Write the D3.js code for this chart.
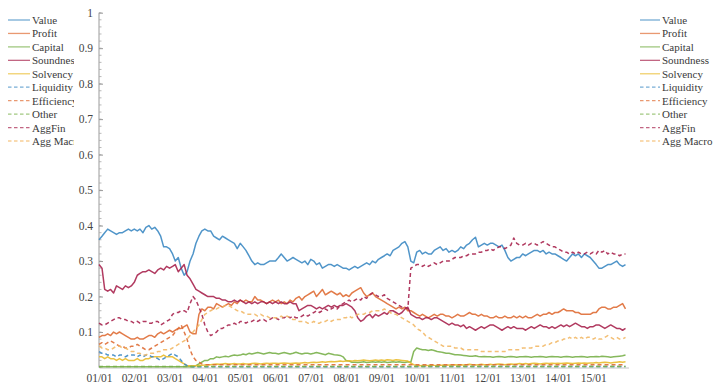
<!DOCTYPE html>
<html>
<head>
<meta charset="utf-8">
<script src="https://cdn.jsdelivr.net/npm/d3@7"></script>
<style>
  html, body { margin: 0; padding: 0; background: #fff; }
  svg { display: block; }
  svg text { font-family: "Liberation Serif", "DejaVu Serif", "Times New Roman", serif; }
</style>
</head>
<body>
<svg id="chart" width="725" height="386"></svg>
<script>
// Monthly indicator series, January 2001 – December 2015
const startMonth = new Date(2001, 0, 1);

const value = [
  .36,.37,.38,.39,.385,.38,.375,.38,.38,.385,.39,.385,
  .39,.385,.39,.38,.395,.40,.39,.395,.385,.37,.34,.34,
  .335,.32,.30,.31,.28,.26,.27,.30,.32,.35,.37,.385,
  .39,.385,.385,.37,.365,.36,.37,.365,.36,.355,.35,.335,
  .35,.34,.33,.315,.30,.29,.295,.29,.29,.295,.30,.30,
  .30,.31,.32,.31,.30,.305,.31,.305,.30,.295,.30,.29,
  .305,.30,.29,.295,.28,.285,.29,.29,.285,.29,.285,.28,
  .28,.275,.28,.285,.28,.285,.29,.295,.29,.30,.295,.305,
  .31,.315,.32,.315,.33,.335,.34,.35,.355,.34,.30,.295,
  .325,.33,.32,.325,.32,.32,.33,.335,.34,.33,.335,.325,
  .33,.325,.33,.34,.335,.345,.35,.36,.367,.34,.345,.35,
  .345,.35,.35,.345,.34,.345,.33,.31,.30,.305,.31,.31,
  .32,.315,.32,.325,.33,.33,.325,.33,.32,.325,.32,.32,
  .315,.31,.305,.30,.31,.32,.315,.32,.31,.32,.315,.31,
  .30,.29,.28,.28,.285,.29,.29,.295,.30,.29,.285,.29
];

const profit = [
  .085,.09,.09,.095,.09,.10,.095,.10,.095,.09,.085,.08,
  .08,.085,.08,.08,.085,.09,.09,.085,.095,.10,.095,.10,
  .105,.10,.105,.11,.11,.115,.12,.10,.095,.095,.15,.165,
  .16,.17,.17,.165,.18,.175,.17,.175,.18,.175,.185,.18,
  .19,.185,.19,.185,.185,.20,.19,.19,.185,.18,.185,.19,
  .185,.19,.18,.185,.18,.19,.185,.195,.20,.19,.20,.205,
  .21,.215,.20,.21,.22,.205,.21,.215,.21,.205,.21,.20,
  .205,.20,.21,.215,.22,.225,.21,.20,.205,.21,.20,.195,
  .19,.185,.18,.175,.17,.165,.17,.165,.17,.16,.16,.155,
  .15,.145,.15,.145,.14,.145,.15,.145,.15,.15,.145,.145,
  .14,.145,.15,.145,.145,.15,.155,.15,.15,.145,.15,.145,
  .145,.14,.14,.145,.14,.14,.145,.14,.14,.145,.14,.145,
  .14,.145,.14,.14,.145,.15,.145,.15,.15,.155,.15,.155,
  .155,.16,.165,.16,.16,.16,.155,.155,.15,.15,.15,.15,
  .155,.155,.165,.17,.17,.165,.165,.17,.17,.175,.18,.165
];

const capital = [
  .002,.002,.002,.002,.002,.002,.002,.002,.002,.002,.002,.002,
  .002,.002,.002,.002,.002,.002,.002,.002,.002,.002,.002,.002,
  .002,.002,.002,.002,.002,.002,.002,.002,.002,.005,.01,.015,
  .02,.02,.025,.025,.03,.028,.03,.032,.03,.033,.035,.034,
  .035,.038,.036,.04,.038,.04,.042,.04,.038,.04,.042,.04,
  .04,.038,.04,.042,.04,.038,.04,.043,.04,.038,.04,.04,
  .038,.04,.042,.04,.038,.036,.04,.038,.036,.035,.034,.03,
  .02,.018,.015,.015,.014,.015,.016,.014,.015,.016,.015,.016,
  .015,.016,.014,.015,.016,.015,.016,.015,.014,.016,.015,.045,
  .055,.052,.05,.05,.048,.05,.048,.045,.044,.042,.04,.04,
  .038,.036,.036,.035,.034,.033,.032,.032,.033,.031,.03,.031,
  .03,.03,.029,.03,.031,.03,.029,.03,.031,.03,.029,.03,
  .03,.031,.03,.029,.03,.03,.031,.03,.029,.03,.031,.03,
  .03,.029,.03,.031,.03,.029,.03,.03,.031,.03,.029,.03,
  .03,.031,.03,.032,.031,.03,.029,.03,.031,.032,.033,.035
];

const soundness = [
  .29,.28,.22,.215,.22,.21,.23,.225,.22,.23,.225,.23,
  .24,.26,.265,.27,.27,.275,.27,.265,.275,.28,.275,.285,
  .28,.285,.29,.27,.28,.29,.26,.25,.235,.22,.215,.21,
  .205,.20,.20,.20,.195,.195,.19,.19,.185,.185,.19,.185,
  .19,.185,.18,.185,.18,.185,.18,.185,.185,.18,.185,.18,
  .185,.18,.185,.18,.18,.185,.18,.18,.16,.165,.17,.175,
  .175,.17,.165,.17,.165,.17,.175,.17,.175,.17,.175,.175,
  .18,.175,.17,.16,.14,.13,.135,.145,.15,.14,.15,.145,
  .15,.155,.15,.16,.16,.155,.15,.155,.165,.17,.15,.145,
  .14,.14,.135,.14,.14,.135,.14,.14,.135,.13,.125,.12,
  .125,.12,.12,.115,.12,.11,.115,.11,.105,.11,.115,.11,
  .115,.12,.12,.115,.11,.105,.11,.115,.11,.115,.11,.11,
  .11,.105,.11,.115,.11,.115,.12,.115,.115,.11,.115,.11,
  .115,.12,.115,.12,.115,.12,.125,.12,.115,.115,.11,.115,
  .115,.12,.12,.115,.11,.115,.12,.115,.11,.11,.105,.11
];

const solvency = [
  .03,.03,.025,.03,.025,.025,.02,.025,.02,.025,.02,.02,
  .02,.025,.02,.02,.025,.025,.03,.03,.03,.03,.035,.03,
  .03,.03,.025,.02,.015,.01,.005,.005,.005,.005,.006,.006,
  .007,.008,.008,.009,.01,.009,.01,.011,.01,.01,.011,.01,
  .01,.011,.01,.01,.011,.012,.011,.01,.011,.012,.011,.012,
  .012,.011,.012,.013,.012,.011,.012,.013,.012,.013,.014,.013,
  .014,.015,.014,.015,.016,.015,.016,.017,.016,.017,.018,.017,
  .018,.019,.018,.02,.019,.02,.021,.02,.019,.02,.021,.02,
  .021,.02,.022,.021,.02,.022,.021,.02,.019,.018,.012,.008,
  .006,.005,.006,.005,.006,.007,.006,.005,.006,.007,.006,.007,
  .007,.008,.007,.008,.007,.008,.009,.008,.007,.008,.009,.008,
  .008,.009,.008,.009,.01,.009,.008,.009,.01,.009,.01,.011,
  .01,.011,.01,.011,.012,.011,.01,.011,.012,.011,.012,.011,
  .012,.011,.012,.013,.012,.011,.012,.013,.012,.013,.012,.013,
  .013,.014,.013,.014,.015,.014,.013,.014,.015,.016,.015,.016
];

const liquidity = [
  .045,.04,.04,.035,.035,.035,.03,.035,.035,.03,.035,.035,
  .035,.03,.035,.03,.035,.035,.03,.03,.025,.02,.025,.03,
  .035,.04,.035,.03,.02,.01,.005,.003,.002,.002,.002,.002,
  .002,.002,.002,.002,.002,.002,.002,.002,.002,.002,.002,.002,
  .002,.002,.002,.002,.002,.002,.002,.002,.002,.002,.002,.002,
  .002,.002,.002,.002,.002,.002,.002,.002,.002,.002,.002,.002,
  .002,.002,.002,.002,.002,.002,.002,.002,.002,.002,.002,.002,
  .002,.002,.002,.002,.002,.002,.002,.002,.002,.002,.002,.002,
  .002,.002,.002,.002,.002,.002,.002,.002,.002,.002,.002,.003,
  .003,.003,.003,.003,.003,.003,.003,.003,.003,.003,.003,.003,
  .003,.003,.003,.003,.003,.003,.003,.003,.003,.003,.003,.003,
  .003,.003,.003,.003,.003,.003,.003,.003,.003,.003,.003,.003,
  .003,.003,.003,.003,.003,.003,.003,.003,.003,.003,.003,.003,
  .003,.003,.003,.003,.003,.003,.003,.003,.003,.003,.003,.003,
  .003,.003,.003,.003,.003,.003,.003,.003,.003,.003,.003,.003
];

const efficiency = [
  .065,.07,.065,.07,.075,.07,.065,.06,.06,.055,.055,.06,
  .06,.065,.06,.055,.05,.05,.055,.06,.065,.07,.075,.08,
  .085,.09,.10,.11,.12,.10,.08,.05,.03,.02,.015,.01,
  .008,.008,.008,.008,.008,.008,.008,.008,.008,.008,.008,.008,
  .008,.008,.008,.008,.008,.008,.008,.008,.008,.008,.008,.008,
  .008,.008,.008,.008,.008,.008,.008,.008,.008,.008,.008,.008,
  .008,.008,.008,.008,.008,.008,.008,.008,.008,.008,.008,.008,
  .008,.008,.008,.008,.008,.008,.008,.008,.008,.008,.008,.008,
  .008,.008,.008,.008,.008,.008,.008,.008,.008,.008,.008,.008,
  .008,.008,.008,.008,.008,.008,.008,.008,.008,.008,.008,.008,
  .008,.008,.008,.008,.008,.008,.008,.008,.008,.008,.008,.008,
  .008,.008,.008,.008,.008,.008,.008,.008,.008,.008,.008,.008,
  .008,.008,.008,.008,.008,.008,.008,.008,.008,.008,.008,.008,
  .008,.008,.008,.008,.008,.008,.008,.008,.008,.008,.008,.008,
  .008,.008,.008,.008,.008,.008,.008,.008,.008,.008,.008,.008
];

const other = [
  .003,.003,.003,.003,.003,.003,.003,.003,.003,.003,.003,.003,
  .003,.003,.003,.003,.003,.003,.003,.003,.003,.003,.003,.003,
  .003,.003,.003,.003,.003,.003,.003,.003,.003,.003,.003,.003,
  .003,.003,.003,.003,.003,.003,.003,.003,.003,.003,.003,.003,
  .003,.003,.003,.003,.003,.003,.003,.003,.003,.003,.003,.003,
  .003,.003,.003,.003,.003,.003,.003,.003,.003,.003,.003,.003,
  .003,.003,.003,.003,.003,.003,.003,.003,.003,.003,.003,.003,
  .003,.003,.003,.003,.003,.003,.003,.003,.003,.003,.003,.003,
  .003,.003,.003,.003,.003,.003,.003,.003,.003,.003,.003,.003,
  .003,.003,.003,.003,.003,.003,.003,.003,.003,.003,.003,.003,
  .003,.003,.003,.003,.003,.003,.003,.003,.003,.003,.003,.003,
  .003,.003,.003,.003,.003,.003,.003,.003,.003,.003,.003,.003,
  .003,.003,.003,.003,.003,.003,.003,.003,.003,.003,.003,.003,
  .003,.003,.003,.003,.003,.003,.003,.003,.003,.003,.003,.003,
  .003,.003,.003,.003,.003,.003,.003,.003,.003,.003,.003,.003
];

const aggFin = [
  .125,.12,.12,.125,.13,.135,.14,.14,.135,.135,.13,.13,
  .125,.13,.125,.13,.13,.125,.125,.13,.13,.12,.125,.13,
  .135,.15,.155,.155,.16,.16,.155,.18,.20,.19,.17,.15,
  .12,.10,.09,.095,.10,.11,.11,.115,.12,.12,.125,.12,
  .13,.13,.125,.13,.13,.135,.13,.135,.135,.13,.135,.14,
  .14,.135,.14,.14,.145,.14,.145,.14,.14,.145,.15,.145,
  .15,.155,.16,.155,.16,.165,.16,.165,.17,.165,.175,.18,
  .185,.19,.185,.19,.195,.19,.20,.195,.205,.21,.205,.20,
  .20,.205,.195,.19,.185,.18,.175,.17,.17,.165,.28,.285,
  .29,.29,.285,.29,.285,.29,.295,.29,.295,.30,.30,.30,
  .305,.31,.31,.31,.315,.315,.32,.32,.32,.325,.325,.33,
  .33,.335,.33,.335,.34,.34,.335,.34,.345,.365,.35,.345,
  .345,.35,.345,.35,.35,.345,.35,.355,.35,.345,.34,.34,
  .335,.33,.325,.325,.32,.325,.32,.325,.32,.32,.325,.32,
  .325,.32,.33,.325,.33,.32,.325,.32,.32,.315,.32,.32
];

const aggMacro = [
  .06,.055,.055,.05,.05,.055,.06,.06,.055,.055,.05,.045,
  .045,.04,.04,.035,.035,.04,.04,.04,.045,.045,.05,.05,
  .05,.055,.06,.065,.07,.075,.08,.09,.10,.11,.12,.135,
  .15,.155,.16,.165,.165,.17,.17,.175,.175,.17,.165,.16,
  .16,.155,.15,.15,.15,.15,.145,.15,.145,.145,.14,.14,
  .14,.14,.145,.14,.145,.14,.135,.135,.13,.13,.13,.125,
  .125,.13,.125,.125,.13,.13,.135,.13,.135,.135,.135,.14,
  .14,.145,.14,.145,.15,.15,.15,.155,.155,.16,.16,.16,
  .16,.165,.16,.155,.15,.15,.145,.14,.135,.13,.125,.12,
  .11,.105,.10,.09,.085,.08,.075,.07,.065,.06,.06,.06,
  .06,.055,.055,.055,.05,.05,.05,.05,.05,.05,.045,.045,
  .045,.045,.045,.045,.045,.045,.045,.05,.05,.05,.05,.05,
  .055,.055,.055,.055,.06,.06,.06,.06,.065,.065,.07,.07,
  .075,.075,.08,.08,.085,.08,.085,.08,.085,.08,.085,.085,
  .08,.085,.08,.08,.085,.09,.085,.08,.085,.08,.08,.085
];

const seriesNames = ["Value","Profit","Capital","Soundness","Solvency",
                     "Liquidity","Efficiency","Other","AggFin","Agg Macro"];
const seriesValues = [value, profit, capital, soundness, solvency,
                      liquidity, efficiency, other, aggFin, aggMacro];
const seriesColors = ["#3d8ac3","#df6d35","#79b04a","#a8254f","#e9bb2c",
                      "#3d8ac3","#df6d35","#79b04a","#a8254f","#f2b866"];
const seriesDashed = [false,false,false,false,false,true,true,true,true,true];

const yTickValues = [0.1,0.2,0.3,0.4,0.5,0.6,0.7,0.8,0.9,1];

const serif = '"Liberation Serif", "DejaVu Serif", "Times New Roman", serif';
const svg = d3.select("#chart");

const x = d3.scaleTime()
  .domain([new Date(2001, 0, 1), new Date(2016, 0, 1)])
  .range([99, 628.5]);
const y = d3.scaleLinear().domain([0, 1]).range([367.5, 12.7]);

const dates = d3.range(value.length).map(i => d3.timeMonth.offset(startMonth, i));

// y axis: line with inward major and minor ticks
const yAxisG = svg.append("g").attr("transform", "translate(99,0)");
yAxisG.append("line")
  .attr("x1", 0).attr("x2", 0)
  .attr("y1", y(1)).attr("y2", y(0))
  .attr("stroke", "#9a9a9a").attr("stroke-width", 1);
const minor = d3.range(0, 1.0001, 0.02);
yAxisG.selectAll("line.minor").data(minor).join("line")
  .attr("class", "minor")
  .attr("x1", 0).attr("x2", 2.5)
  .attr("y1", d => y(d)).attr("y2", d => y(d))
  .attr("stroke", "#a8a8a8").attr("stroke-width", 0.8);
const yAxis = d3.axisLeft(y).tickValues(yTickValues)
  .tickFormat(d => d === 1 ? "1" : d3.format(".1f")(d))
  .tickSize(-4).tickPadding(6);
yAxisG.call(yAxis);
yAxisG.attr("font-family", null);
yAxisG.select(".domain").remove();
yAxisG.selectAll(".tick line").attr("stroke", "#9a9a9a");
yAxisG.selectAll(".tick text")
  .style("font-family", serif)
  .attr("font-size", 11.5).attr("fill", "#444");

// x axis
const xAxisG = svg.append("g").attr("transform", "translate(0,367.5)");
xAxisG.call(d3.axisBottom(x)
  .tickValues(d3.range(2001, 2016).map(yr => new Date(yr, 0, 1)))
  .tickFormat(d3.timeFormat("%y/%m"))
  .tickSize(0).tickPadding(6));
xAxisG.attr("font-family", null);
xAxisG.select(".domain").attr("stroke", "#b5b5b5").attr("stroke-width", 0.8);
xAxisG.selectAll(".tick text")
  .style("font-family", serif)
  .attr("font-size", 11.5).attr("fill", "#444");

// series lines
const line = d3.line()
  .x((d, i) => x(dates[i]))
  .y(d => y(d));

const plotG = svg.append("g");
seriesValues.forEach((vals, k) => {
  plotG.append("path")
    .datum(vals)
    .attr("fill", "none")
    .attr("stroke", seriesColors[k])
    .attr("stroke-width", 1.5)
    .attr("stroke-opacity", 0.9)
    .attr("stroke-dasharray", seriesDashed[k] ? "4,3" : null)
    .attr("stroke-linejoin", "round")
    .attr("d", line);
});

// legends: one cropped at the left edge, one complete at the right
const rowY = d3.scaleLinear().domain([0, 9]).range([20, 141]);

function drawLegend(g, lineX0, lineX1, textX) {
  const rows = g.selectAll("g.row").data(seriesNames).join("g")
    .attr("class", "row")
    .attr("transform", (d, i) => `translate(0,${rowY(i)})`);
  rows.append("line")
    .attr("x1", lineX0).attr("x2", lineX1)
    .attr("stroke", (d, i) => seriesColors[i])
    .attr("stroke-opacity", 0.7)
    .attr("stroke-width", 1.3)
    .attr("stroke-dasharray", (d, i) => seriesDashed[i] ? "3.5,2.5" : null);
  rows.append("text")
    .attr("x", textX).attr("y", 4)
    .style("font-family", serif)
    .attr("font-size", 11).attr("fill", "#3a3a3a")
    .text(d => d);
}

svg.append("clipPath").attr("id", "leftLegendClip")
  .append("rect").attr("x", 0).attr("y", 0).attr("width", 74).attr("height", 160);
const leftLegend = svg.append("g").attr("clip-path", "url(#leftLegendClip)");
drawLegend(leftLegend, 8, 30, 32);

const rightLegend = svg.append("g");
drawLegend(rightLegend, 640, 660, 662);
</script>
</body>
</html>
